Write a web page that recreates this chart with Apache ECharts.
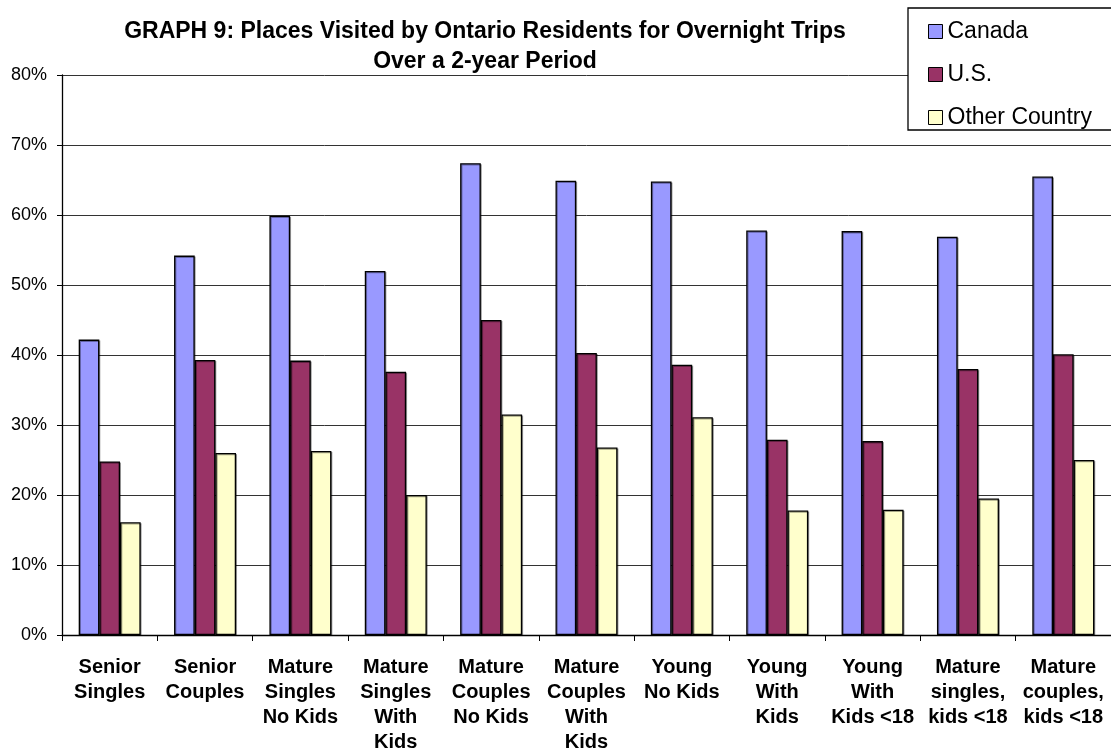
<!DOCTYPE html>
<html><head><meta charset="utf-8">
<script src="https://cdn.jsdelivr.net/npm/echarts@6/dist/echarts.min.js"></script>
<style>html,body{margin:0;padding:0;background:#fff}#c{width:1111px;height:755px}</style>
</head><body><div id="c"></div>
<script>
const categories = ["Senior\nSingles","Senior\nCouples","Mature\nSingles\nNo Kids","Mature\nSingles\nWith\nKids","Mature\nCouples\nNo Kids","Mature\nCouples\nWith\nKids","Young\nNo Kids","Young\nWith\nKids","Young\nWith\nKids <18","Mature\nsingles,\nkids <18","Mature\ncouples,\nkids <18"];
const canada = [42.2,54.2,59.9,52.0,67.4,64.9,64.8,57.8,57.7,56.9,65.5];
const us = [24.8,39.3,39.2,37.6,45.0,40.3,38.6,27.9,27.7,38.0,40.1];
const other = [16.1,26.0,26.3,20.0,31.5,26.8,31.1,17.8,17.9,19.5,25.0];
const yTicks = [0,10,20,30,40,50,60,70,80];

const F = 'Arial, "Liberation Sans", sans-serif';
const chart = echarts.init(document.getElementById('c'), null, {renderer:'canvas'});
function ser(name, data, color){
  return {name, type:'bar', data, barGap:'0%', barCategoryGap:'35%',
    itemStyle:{color, borderColor:'#000', borderWidth:1.3, shadowColor:'rgba(0,0,0,0.35)', shadowOffsetX:1, shadowOffsetY:1},
    emphasis:{disabled:true}};
}
chart.setOption({
  animation:false,
  title:{text:'GRAPH 9: Places Visited by Ontario Residents for Overnight Trips\nOver a 2-year Period',
    left:480, top:12, textAlign:'center',
    textStyle:{fontFamily:F, fontWeight:'bold', fontSize:23, lineHeight:30, color:'#000'}},
  legend:{orient:'vertical', left:908, top:8,
    padding:[12,40,1,20], itemGap:20, itemWidth:14, itemHeight:14,
    backgroundColor:'#fff', borderColor:'#000', borderWidth:1.3,
    icon:'rect', itemStyle:{borderColor:'#000', borderWidth:1},
    textStyle:{fontFamily:F, fontSize:23, color:'#000', padding:[0,0,0,0]},
    data:['Canada','U.S.','Other Country']},
  grid:{left:62, right:0, top:75, bottom:115, containLabel:false},
  xAxis:{type:'category', data:categories,
    axisLine:{lineStyle:{color:'#000', width:1.3}},
    axisTick:{show:true, length:6, lineStyle:{color:'#000'}},
    axisLabel:{interval:0, fontFamily:F, fontWeight:'bold', fontSize:20, lineHeight:25, color:'#000', margin:20}},
  yAxis:{type:'value', min:0, max:80, interval:10,
    axisLine:{show:true, lineStyle:{color:'#000', width:1.3}},
    axisTick:{show:true, length:5, lineStyle:{color:'#000'}},
    splitLine:{lineStyle:{color:'#333', width:1}},
    axisLabel:{formatter:v=>v+'%', fontFamily:F, fontSize:18, color:'#000', margin:15}},
  series:[ser('Canada',canada,'#9999FF'), ser('U.S.',us,'#993366'), ser('Other Country',other,'#FFFFCC')]
});
</script></body></html>
